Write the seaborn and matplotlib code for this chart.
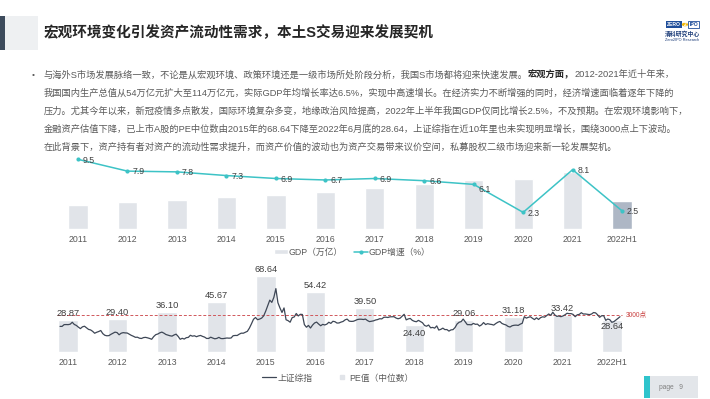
import numpy as np
import seaborn as sns
import matplotlib.pyplot as plt
from matplotlib.patches import Rectangle, Patch, Circle
from matplotlib.lines import Line2D

# --- data ---
YEARS = ["2011", "2012", "2013", "2014", "2015", "2016", "2017", "2018",
         "2019", "2020", "2021", "2022H1"]
GDP = [48.9, 54.0, 59.3, 64.4, 68.9, 74.6, 83.2, 91.9, 98.7, 101.4, 114.4, 56.3]
GDP_GROWTH = [9.5, 7.9, 7.8, 7.3, 6.9, 6.7, 6.9, 6.6, 6.1, 2.3, 8.1, 2.5]
PE_MEDIAN = [28.87, 29.40, 36.10, 45.67, 68.64, 54.42, 39.50, 24.40, 29.06,
             31.18, 33.42, 28.64]

# 上证综指, two readings per month (mid / end)
SSE_2011 = [2790, 2790, 2900, 2905, 2900, 2928, 3050, 2911, 2850, 2743, 2650, 2762,
            2800, 2701, 2600, 2568, 2480, 2359, 2420, 2468, 2530, 2333, 2230, 2199]
SSE_2012 = [2210, 2292, 2360, 2428, 2400, 2263, 2360, 2396, 2380, 2373, 2300, 2225,
            2170, 2103, 2110, 2047, 2030, 2086, 2100, 2069, 2030, 1980, 2150, 2269]
SSE_2013 = [2310, 2385, 2430, 2365, 2280, 2237, 2200, 2178, 2250, 2301, 2160, 1979,
            2040, 1994, 2080, 2098, 2230, 2175, 2200, 2141, 2190, 2220, 2160, 2116]
SSE_2014 = [2030, 2033, 2110, 2056, 2010, 2033, 2100, 2026, 2020, 2039, 2060, 2048,
            2060, 2202, 2220, 2217, 2300, 2364, 2360, 2420, 2480, 2683, 2950, 3235]
SSE_2015 = [3350, 3210, 3250, 3310, 3450, 3748, 4100, 4441, 4300, 4612, 5166, 4277,
            3950, 3664, 3950, 3206, 3150, 3053, 3340, 3383, 3600, 3445, 3550, 3539]
SSE_2016 = [2900, 2738, 2850, 2688, 2870, 3004, 3060, 2938, 2830, 2917, 2880, 2930,
            3050, 2979, 3110, 3085, 3000, 3005, 3060, 3100, 3200, 3250, 3120, 3104]
SSE_2017 = [3110, 3159, 3220, 3242, 3240, 3223, 3250, 3155, 3090, 3117, 3140, 3192,
            3220, 3273, 3260, 3361, 3370, 3349, 3390, 3393, 3400, 3317, 3270, 3307]
SSE_2018 = [3430, 3550, 3200, 3259, 3290, 3169, 3110, 3082, 3170, 3095, 3020, 2847,
            2800, 2876, 2700, 2725, 2680, 2821, 2560, 2603, 2680, 2588, 2590, 2494]
SSE_2019 = [2570, 2585, 2720, 2941, 3050, 3091, 3250, 3078, 2900, 2899, 2890, 2979,
            2920, 2932, 2810, 2886, 3030, 2905, 2960, 2929, 2910, 2872, 2970, 3050]
SSE_2020 = [3100, 2977, 2920, 2880, 2790, 2750, 2830, 2860, 2870, 2852, 2930, 2985,
            3400, 3310, 3360, 3396, 3300, 3218, 3330, 3225, 3340, 3392, 3370, 3473]
SSE_2021 = [3570, 3483, 3680, 3509, 3420, 3442, 3400, 3447, 3520, 3615, 3590, 3591,
            3540, 3397, 3520, 3544, 3650, 3568, 3570, 3547, 3530, 3564, 3660, 3640]
SSE_2022 = [3520, 3361, 3460, 3462, 3170, 3253, 3210, 3047, 3090, 3186, 3290, 3399]

TITLE = "宏观环境变化引发资产流动性需求，本土S交易迎来发展契机"
BODY = [
    [("与海外S市场发展脉络一致，不论是从宏观环境、政策环境还是一级市场所处阶段分析，我国S市场都将迎来快速发展。", "normal"),
     ("宏观方面，", "bold"), ("2012-2021年近十年来，", "normal")],
    [("我国国内生产总值从54万亿元扩大至114万亿元，实际GDP年均增长率达6.5%，实现中高速增长。在经济实力不断增强的同时，经济增速面临着逐年下降的", "normal")],
    [("压力。尤其今年以来，新冠疫情多点散发，国际环境复杂多变，地缘政治风险提高，2022年上半年我国GDP仅同比增长2.5%，不及预期。在宏观环境影响下，", "normal")],
    [("金融资产估值下降，已上市A股的PE中位数由2015年的68.64下降至2022年6月底的28.64，上证综指在近10年里也未实现明显增长，围绕3000点上下波动。", "normal")],
    [("在此背景下，资产持有者对资产的流动性需求提升，而资产价值的波动也为资产交易带来议价空间，私募股权二级市场迎来新一轮发展契机。", "normal")],
]

sse_v, sse_t = [], []
for yr, vals in zip(range(2011, 2023), [SSE_2011, SSE_2012, SSE_2013, SSE_2014, SSE_2015, SSE_2016,
                                        SSE_2017, SSE_2018, SSE_2019, SSE_2020, SSE_2021, SSE_2022]):
    for j, v in enumerate(vals):
        sse_t.append(yr + (j + 1) / 24)
        sse_v.append(v)

# --- style ---
sns.set_style("white")
FONTS = ["Liberation Sans", "Noto Sans CJK SC"]
plt.rcParams["font.family"] = FONTS
TEAL = "#3DC3C6"
BAR = "#E1E4E9"
DARK_BAR = "#AEB7C5"
INDEX = "#3E4756"
GREY_TXT = "#595959"
FS = 6.3

W, H = 710, 399
fig = plt.figure(figsize=(7.1, 3.99), dpi=100)


def fx(px):
    return px / W


def fy(py):
    return 1 - py / H


def rect(x0, y0, x1, y1, **kw):
    fig.patches.append(Rectangle((fx(x0), fy(y1)), (x1 - x0) / W, (y1 - y0) / H,
                                 transform=fig.transFigure, **kw))


# header
rect(0, 16, 5, 50, color="#3D4B5C", lw=0)
rect(5, 16, 38, 50, color="#EEF0F2", lw=0)
fig.text(fx(44), fy(33), TITLE, fontsize=10.5, fontweight="bold", color="#262626",
         va="center", ha="left")

# logo
rect(666, 21, 682, 28, color="#1F4E9A", lw=0)
fig.text(fx(674), fy(24.5), "ZERO", fontsize=3.6, fontweight="bold", color="white",
         ha="center", va="center")
fig.patches.append(Circle((fx(685), fy(24.5)), 3.2 / W, transform=fig.transFigure,
                          color="#F2B807", lw=0))
fig.text(fx(685), fy(24.5), "2", fontsize=3.6, fontweight="bold", color="white",
         ha="center", va="center")
rect(688, 21, 699, 28, facecolor="white", edgecolor="#1F4E9A", lw=0.6)
fig.text(fx(693.5), fy(24.5), "IPO", fontsize=3.6, fontweight="bold", color="#1F4E9A",
         ha="center", va="center")
fig.text(fx(682.5), fy(34), "清科研究中心", fontsize=4.2, fontweight="bold", color="#1F3F7A",
         ha="center", va="center")
fig.text(fx(682.5), fy(40), "Zero2IPO Research", fontsize=2.8, color="#1F3F7A",
         ha="center", va="center")

# body text
renderer = fig.canvas.get_renderer()
BODY_FS = 6.65
fig.text(fx(32), fy(75), "•", fontsize=6, color=GREY_TXT, ha="left", va="center")
for k, segs in enumerate(BODY):
    x = 44
    y = 75 + 18 * k
    for s, weight in segs:
        t = fig.text(fx(x), fy(y), s, fontsize=BODY_FS, fontweight=weight,
                     color="#262626" if weight == "bold" else GREY_TXT, ha="left", va="center")
        x = t.get_window_extent(renderer=renderer).x1


def clean(ax):
    for sp in ax.spines.values():
        sp.set_visible(False)
    ax.set_xlabel("")
    ax.set_ylabel("")
    ax.set_yticks([])


# top chart: GDP bars + growth line
top_rect = [fx(53.3), fy(229.3), 593.5 / W, 79.3 / H]
ax_gdp = fig.add_axes(top_rect)
sns.barplot(x=YEARS, y=GDP, hue=YEARS, palette=[BAR] * 11 + [DARK_BAR], legend=False,
            width=0.39, saturation=1, ax=ax_gdp)
ax_gdp.set_xlim(-0.5, 11.5)
ax_gdp.set_ylim(0, 159.6)
clean(ax_gdp)
ax_gdp.tick_params(axis="x", length=0, pad=4.3, labelsize=FS, labelcolor=GREY_TXT)

ax_gr = fig.add_axes(top_rect, facecolor="none")
sns.lineplot(x=np.arange(len(YEARS)), y=GDP_GROWTH, ax=ax_gr, color=TEAL, lw=1.1,
             marker="o", markersize=3, markeredgewidth=0)
ax_gr.set_xlim(-0.5, 11.5)
ax_gr.set_ylim(0, 10.77)
ax_gr.axis("off")
for i, v in enumerate(GDP_GROWTH):
    dy = -3.5 if YEARS[i] == "2019" else -0.5
    ax_gr.annotate(f"{v}", (i, v), xytext=(3.5, dy), textcoords="offset points",
                   ha="left", va="center", fontsize=FS, color="#404040")

fig.legend(handles=[Patch(facecolor=BAR, label="GDP（万亿）"),
                    Line2D([], [], color=TEAL, lw=1.1, marker="o", markersize=3,
                           markeredgewidth=0, label="GDP增速（%）")],
           loc="center", bbox_to_anchor=(fx(352), fy(252)), ncol=2, frameon=False,
           fontsize=FS, labelcolor=GREY_TXT, handlelength=1.6, handleheight=0.6,
           handletextpad=0.1, columnspacing=1.3)

# bottom chart: PE bars + index line
bot_rect = [fx(43.3), fy(351.7), 593.5 / W, 91.7 / H]
ax_pe = fig.add_axes(bot_rect)
sns.barplot(x=YEARS, y=PE_MEDIAN, color=BAR, width=0.39, saturation=1, ax=ax_pe)
ax_pe.set_xlim(-0.5, 11.5)
ax_pe.set_ylim(0, 83.6)
clean(ax_pe)
ax_pe.tick_params(axis="x", length=0, pad=4.3, labelsize=FS, labelcolor=GREY_TXT)
for i, v in enumerate(PE_MEDIAN):
    if YEARS[i] == "2018":
        off, va = -3, "top"
    elif YEARS[i] == "2022H1":
        off, va = -1.5, "top"
    else:
        off, va = 1.5, "bottom"
    ax_pe.annotate(f"{v:.2f}", (i, v), xytext=(0, off), textcoords="offset points",
                   ha="center", va=va, fontsize=FS + 0.4, color="#404040")

# 3000点 reference
ax_pe.plot([0.0226, 0.9746], [0.40, 0.40], transform=ax_pe.transAxes, color="#D0575B",
           lw=0.7, ls=(0, (3, 2)))
ax_pe.text(0.981, 0.40, "3000点", transform=ax_pe.transAxes, fontsize=4.8,
           color="#C9403F", ha="left", va="center")

ax_idx = fig.add_axes(bot_rect, facecolor="none")
sns.lineplot(x=sse_t, y=sse_v, ax=ax_idx, color=INDEX, lw=0.9)
ax_idx.set_xlim(2010.699, 2022.844)
ax_idx.set_ylim(1198, 6965)
ax_idx.axis("off")

fig.legend(handles=[Line2D([], [], color=INDEX, lw=0.9, label="上证综指"),
                    Line2D([], [], color=BAR, marker="s", ls="none", markersize=3.5,
                           label="PE值（中位数）")],
           loc="center", bbox_to_anchor=(fx(338), fy(378)), ncol=2, frameon=False,
           fontsize=FS, labelcolor=GREY_TXT, handlelength=1.6, handletextpad=0.1,
           columnspacing=2.6)

# page tag
rect(644, 376, 650, 398, color="#2FC4CC", lw=0)
rect(650, 376, 698, 398, color="#E3E6EA", lw=0)
fig.text(fx(659), fy(387.5), "page   9", fontsize=4.8, color="#7F7F7F", ha="left", va="center")

fig.savefig("out.png", dpi=100)
